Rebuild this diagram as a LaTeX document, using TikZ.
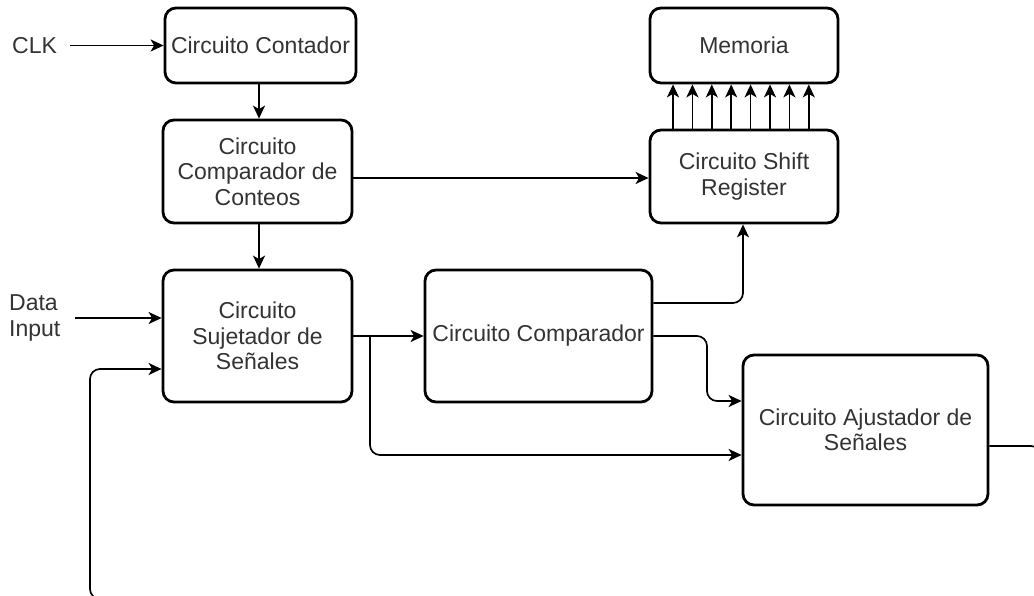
\documentclass[tikz,border=0pt]{standalone}
\usepackage{fontspec}
\setmainfont{Liberation Sans}
\usetikzlibrary{arrows.meta}
\definecolor{txt}{HTML}{333333}
\tikzset{
  block/.style={draw=black, line width=2.8pt, rounded corners=11pt, fill=white,
    align=center, text=txt, inner sep=0pt},
  lbl/.style={text=txt, align=left, inner sep=0pt},
  wire/.style={line width=1.7pt, rounded corners=10pt,
    -{Stealth[length=13pt,width=12pt,inset=3.5pt]}},
}
\begin{document}
\begin{tikzpicture}[x=1pt,y=-1pt,font=\fontsize{23}{25.5}\selectfont]
\clip (0,0) rectangle (1034,596);
\fill[white] (0,0) rectangle (1034,596);

% blocks
\node[block, minimum width=191pt, minimum height=75pt] (cnt) at (260.5,45.5) {Circuito Contador};
\node[block, minimum width=189pt, minimum height=103pt] (cmpc) at (257.5,171.5) {Circuito\\Comparador de\\Conteos};
\node[block, minimum width=189pt, minimum height=132pt] (suj) at (257.5,336) {Circuito\\Sujetador de\\Señales};
\node[block, minimum width=227pt, minimum height=132pt] (cmp) at (538.5,336) {Circuito Comparador};
\node[block, minimum width=188pt, minimum height=75pt] (mem) at (744,45.5) {Memoria};
\node[block, minimum width=188pt, minimum height=93pt] (shr) at (744,176.5) {Circuito Shift\\Register};
\node[block, minimum width=245pt, minimum height=150pt] (adj) at (865.5,430) {Circuito Ajustador de\\Señales};

% input labels
\node[lbl, anchor=west] (clk) at (12,45.5) {CLK};
\node[lbl, anchor=west] (din) at (9,318) {Data\\Input};

% connector waypoints
\coordinate (col) at (259,0);
\coordinate (clkS) at (70,45.5);
\coordinate (dinS) at (75,318);
\coordinate (br) at (370,336);
\coordinate (br2) at (370,455);
\coordinate (up1) at (743,303);
\coordinate (dn1) at (707,336);
\coordinate (dn2) at (707,401);
\coordinate (fb1) at (1041,446);
\coordinate (fb2) at (1041,599);
\coordinate (fb3) at (90,599);
\coordinate (fb4) at (90,369);

% connectors
\draw[wire] (clkS) -- (cnt.west);
\draw[wire] (col |- cnt.south) -- (col |- cmpc.north);
\draw[wire] (col |- cmpc.south) -- (col |- suj.north);
\draw[wire] (cmpc.east |- 0,178) -- (shr.west |- 0,178);
\draw[wire] (dinS) -- (suj.west |- dinS);
\draw[wire] (suj.east) -- (cmp.west);
\draw[wire] (br) -- (br2) -- (adj.west |- br2);
\draw[wire] (cmp.east |- up1) -- (up1) -- (up1 |- shr.south);
\draw[wire] (cmp.east) -- (dn1) -- (dn2) -- (adj.west |- dn2);
\draw[wire] (adj.east |- fb1) -- (fb1) -- (fb2) -- (fb3) -- (fb4) -- (suj.west |- fb4);

% parallel bus into memory
\foreach \i in {0,...,7} {
  \coordinate (bus\i) at ({673+19.4*\i},0);
  \draw[wire] (bus\i |- shr.north) -- (bus\i |- mem.south);
}
\end{tikzpicture}
\end{document}
